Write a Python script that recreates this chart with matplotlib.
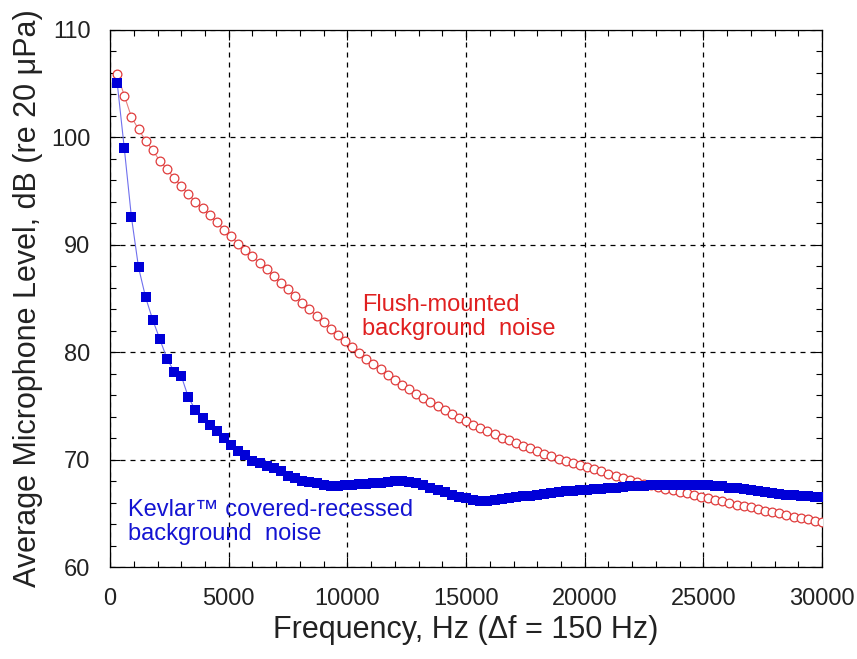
import matplotlib
matplotlib.use("Agg")
import matplotlib.pyplot as plt
from matplotlib.ticker import MultipleLocator

plt.rcParams['font.family'] = ['Liberation Sans', 'DejaVu Sans']

# Narrowband frequencies (Hz), every second 150 Hz bin
freq_hz = [
    300, 600, 900, 1200, 1500, 1800, 2100, 2400, 2700, 3000,
    3300, 3600, 3900, 4200, 4500, 4800, 5100, 5400, 5700, 6000,
    6300, 6600, 6900, 7200, 7500, 7800, 8100, 8400, 8700, 9000,
    9300, 9600, 9900, 10200, 10500, 10800, 11100, 11400, 11700, 12000,
    12300, 12600, 12900, 13200, 13500, 13800, 14100, 14400, 14700, 15000,
    15300, 15600, 15900, 16200, 16500, 16800, 17100, 17400, 17700, 18000,
    18300, 18600, 18900, 19200, 19500, 19800, 20100, 20400, 20700, 21000,
    21300, 21600, 21900, 22200, 22500, 22800, 23100, 23400, 23700, 24000,
    24300, 24600, 24900, 25200, 25500, 25800, 26100, 26400, 26700, 27000,
    27300, 27600, 27900, 28200, 28500, 28800, 29100, 29400, 29700, 30000,
]

# Flush-mounted microphone background noise, dB re 20 uPa
flush_db = [
    105.9, 103.9, 101.9, 100.75, 99.7, 98.8, 97.8, 97.05, 96.2, 95.5,
    94.7, 94.0, 93.4, 92.75, 92.1, 91.4, 90.8, 90.1, 89.5, 88.95,
    88.3, 87.7, 87.05, 86.45, 85.85, 85.2, 84.6, 84.0, 83.4, 82.8,
    82.2, 81.6, 81.0, 80.45, 79.9, 79.4, 78.9, 78.4, 77.9, 77.4,
    76.95, 76.55, 76.15, 75.75, 75.35, 74.95, 74.6, 74.25, 73.9, 73.55,
    73.25, 72.95, 72.65, 72.35, 72.05, 71.8, 71.55, 71.3, 71.05, 70.8,
    70.55, 70.3, 70.1, 69.9, 69.7, 69.5, 69.3, 69.1, 68.9, 68.7,
    68.5, 68.3, 68.1, 67.9, 67.75, 67.6, 67.45, 67.3, 67.15, 67.0,
    66.85, 66.7, 66.55, 66.4, 66.25, 66.1, 65.95, 65.8, 65.7, 65.55,
    65.4, 65.25, 65.1, 65.0, 64.85, 64.7, 64.6, 64.45, 64.3, 64.2,
]

# Kevlar-covered recessed microphone background noise, dB re 20 uPa
kevlar_db = [
    105.1, 99.0, 92.6, 87.9, 85.1, 83.0, 81.2, 79.4, 78.2, 77.8,
    75.8, 74.6, 73.9, 73.2, 72.7, 72.0, 71.4, 70.8, 70.4, 69.9,
    69.65, 69.45, 69.2, 68.9, 68.5, 68.25, 68.05, 67.9, 67.8, 67.65,
    67.55, 67.55, 67.6, 67.65, 67.7, 67.75, 67.8, 67.85, 67.95, 68.0,
    68.0, 67.95, 67.8, 67.6, 67.4, 67.15, 66.95, 66.75, 66.55, 66.4,
    66.2, 66.1, 66.15, 66.2, 66.3, 66.4, 66.5, 66.6, 66.65, 66.7,
    66.8, 66.9, 66.95, 67.05, 67.1, 67.15, 67.2, 67.25, 67.3, 67.35,
    67.4, 67.45, 67.5, 67.55, 67.55, 67.6, 67.6, 67.6, 67.6, 67.65,
    67.65, 67.65, 67.65, 67.6, 67.55, 67.5, 67.4, 67.35, 67.25, 67.15,
    67.05, 66.95, 66.9, 66.8, 66.75, 66.7, 66.65, 66.6, 66.55, 66.5,
]

x_ticks = [0, 5000, 10000, 15000, 20000, 25000, 30000]
y_ticks = [60, 70, 80, 90, 100, 110]

fig = plt.figure(figsize=(8.57, 6.59), dpi=100)
ax = fig.add_axes([0.1284, 0.1396, 0.8308, 0.8149])

ax.plot(freq_hz, flush_db, color='#e88080', lw=0.8, marker='o', ms=6.3,
        mfc='white', mec='#e03c3c', mew=0.9, zorder=3)
ax.plot(freq_hz, kevlar_db, color='#7070ee', lw=0.8, marker='s', ms=7,
        mfc='#0000d8', mec='#0000d8', mew=0, zorder=4)

ax.set_xlim(0, 30000)
ax.set_ylim(60, 110)
ax.set_xticks(x_ticks)
ax.set_yticks(y_ticks)
ax.xaxis.set_minor_locator(MultipleLocator(1000))
ax.yaxis.set_minor_locator(MultipleLocator(2))
ax.tick_params(which='both', direction='in', top=True, right=True,
               colors='black', width=0.8)
ax.tick_params(which='major', length=7, labelsize=17)
ax.tick_params(which='minor', length=4)
ax.tick_params(axis='x', which='major', pad=15)
ax.tick_params(axis='y', which='major', pad=14)
for lbl in ax.get_xticklabels() + ax.get_yticklabels():
    lbl.set_color('#222222')

ax.grid(True, which='major', color='black', linestyle=(0, (4, 4)), lw=0.9)
for s in ax.spines.values():
    s.set_linewidth(0.9)

ax.set_xlabel('Frequency, Hz (\u0394f = 150 Hz)', fontsize=22, color='#222222',
              labelpad=4)
ax.set_ylabel('Average Microphone Level, dB (re 20 \u03bcPa)', fontsize=22,
              color='#222222', labelpad=6)

ax.text(10620, 85.4, 'Flush-mounted\nbackground  noise', color='#e02020',
        fontsize=17, va='top', ha='left', linespacing=1.12)
ax.text(760, 66.35, 'Kevlar\u2122 covered-recessed\nbackground  noise',
        color='#1414d2', fontsize=17, va='top', ha='left', linespacing=1.12)

fig.savefig('out.png', dpi=100)
